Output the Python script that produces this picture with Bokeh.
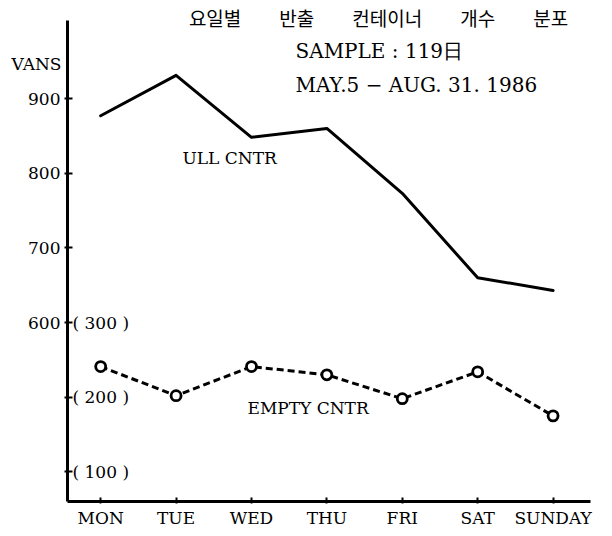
from bokeh.plotting import figure
from bokeh.models import Range1d, FixedTicker, ColumnDataSource, Label
from bokeh.core.properties import value
from bokeh.embed import file_html
from bokeh.resources import INLINE

# ---- data ----
days = ["MON", "TUE", "WED", "THU", "FRI", "SAT", "SUNDAY"]
full_cntr = [877, 931, 848, 860, 773, 660, 643]
empty_cntr = [241, 202, 241, 230, 198, 234, 175]
full_ticks = [600, 700, 800, 900]
empty_ticks = [100, 200, 300]
empty_tick_labels = ["( 100 )", "( 200 )", "( 300 )"]
EMPTY_OFFSET = 300  # empty-container scale is drawn 300 below the full scale

title_text = "요일별\u3000\u3000반출\u3000\u3000컨테이너\u3000\u3000개수\u3000\u3000분포"
sample_text = "SAMPLE : 119日"
period_text = "MAY.5 \u2212 AUG. 31. 1986"
unit_text = "VANS"
full_label = "ULL CNTR"
empty_label = "EMPTY CNTR"

# ---- layout (whole figure is the frame; axes are pinned inside it) ----
W, H = 604, 528
PX_X = 75.4      # pixels per day
PX_Y = 0.7467    # pixels per van
X0 = -1.3286     # x value at left edge
Y1 = 1031.28     # y value at top edge
X1 = X0 + W / PX_X
Y0 = Y1 - H / PX_Y

def dx(px):
    return X0 + px / PX_X

def dy(py):
    return Y1 - py / PX_Y

AX_X = dx(67)     # position of y axis
AX_Y = dy(501)    # position of x axis
AX_TOP = dy(20)
AX_RIGHT = dx(590)

SERIF = "DejaVu Serif"
KR = "Noto Sans CJK KR"

xs = list(range(len(days)))

p = figure(width=W, height=H, x_range=Range1d(X0, X1), y_range=Range1d(Y0, Y1),
           output_backend="svg", toolbar_location=None,
           min_border=0, min_border_left=0, min_border_right=0,
           min_border_top=0, min_border_bottom=0)
p.extra_y_ranges = {"empty": Range1d(Y0 - EMPTY_OFFSET, Y1 - EMPTY_OFFSET)}

p.grid.visible = False
p.outline_line_color = None
p.background_fill_color = "white"
p.border_fill_color = "white"

xa = p.xaxis[0]
ya = p.yaxis[0]
xa.fixed_location = AX_Y
ya.fixed_location = AX_X
xa.bounds = (AX_X, AX_RIGHT)
ya.bounds = (AX_Y, AX_TOP)

xa.ticker = FixedTicker(ticks=xs)
xa.major_label_overrides = {i: d for i, d in enumerate(days)}
extra = [t + EMPTY_OFFSET for t in empty_ticks if t + EMPTY_OFFSET not in full_ticks]
ya.ticker = FixedTicker(ticks=sorted(full_ticks + extra))
ya.major_label_overrides = {t: "" for t in extra}

for ax in (xa, ya):
    ax.axis_line_width = 3
    ax.axis_line_color = "black"
    ax.major_tick_line_width = 2
    ax.major_tick_line_color = "black"
    ax.minor_tick_line_color = None
    ax.major_label_text_font = SERIF
    ax.major_label_text_font_size = "17px"
    ax.major_label_text_color = "black"
xa.major_tick_in = 4
xa.major_tick_out = 2
xa.major_label_standoff = 4
ya.major_tick_in = 5
ya.major_tick_out = 3
ya.major_label_standoff = 4

# full containers
p.line(xs, full_cntr, line_width=3, line_color="black", line_cap="round", line_join="round")
# empty containers
p.line(xs, empty_cntr, y_range_name="empty", line_width=3, line_color="black", line_dash="7 4")
p.scatter(xs, empty_cntr, y_range_name="empty", marker="circle", size=10,
          fill_color="white", line_color="black", line_width=2.8)

# empty-scale tick labels
src = ColumnDataSource(dict(x=[AX_X] * len(empty_ticks), y=empty_ticks, t=empty_tick_labels))
p.text(x="x", y="y", text="t", source=src, y_range_name="empty", x_offset=5,
       text_align="left", text_baseline="middle", text_font=value(SERIF),
       text_font_size="17px", text_color="black")

def lab(px, py, text, font, size, align="left"):
    p.add_layout(Label(x=dx(px), y=dy(py), text=text, text_font=font, text_font_size=size,
                       text_align=align, text_baseline="middle", text_color="black"))

lab(378, 17, title_text, KR, "19px", "center")
lab(295, 50, sample_text, SERIF, "20px")
lab(295, 84, period_text, SERIF, "20px")
lab(61, 63, unit_text, SERIF, "17px", "right")
lab(182, 157, full_label, SERIF, "17px")
lab(247, 407, empty_label, SERIF, "17px")

open("out.html", "w").write(file_html(p, INLINE))
